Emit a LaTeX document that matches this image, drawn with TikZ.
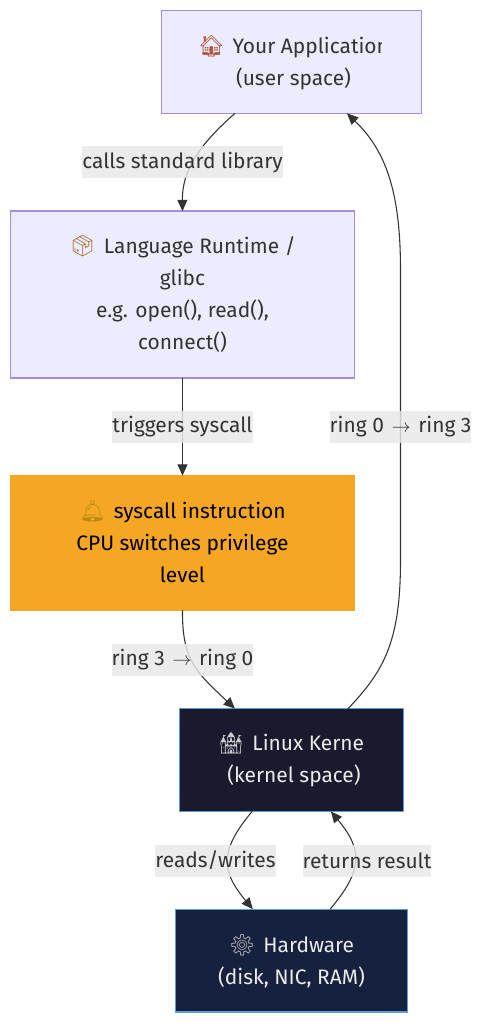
\documentclass[tikz,border=0pt]{standalone}
\usepackage{fontspec}
\setmainfont{Fira Sans}
\newfontfamily\emojifont{Noto Emoji}
\usetikzlibrary{
  arrows.meta
}
\definecolor{boxlight}{HTML}{ECECFF}
\definecolor{boxedge}{HTML}{AA8BE4}
\definecolor{boxsyscall}{HTML}{F5A623}
\definecolor{boxkernel}{HTML}{1A1A2E}
\definecolor{boxhardware}{HTML}{16213E}
\definecolor{boxblue}{HTML}{5A9BDC}
\definecolor{inkdark}{HTML}{333333}
\definecolor{labelgrey}{HTML}{E8E8E8}
\definecolor{housered}{HTML}{B5533C}
\definecolor{parcelbrown}{HTML}{A8743A}
\definecolor{bellgold}{HTML}{B98A10}
\newcommand{\emojitext}[2]{{\color{#1}\emojifont #2}\hspace{6pt}}
\tikzset{
  every node/.style={
    font=\fontsize{15.7}{24}\selectfont,
    align=center,
    inner sep=0pt,
    outer sep=0pt
  },
  light box/.style={
    draw=boxedge,
    line width=1pt,
    fill=boxlight,
    text=inkdark
  },
  syscall box/.style={
    draw=boxsyscall,
    line width=1pt,
    fill=boxsyscall,
    text=black
  },
  dark box/.style={
    draw=boxblue,
    line width=1pt,
    text=white!92!black
  },
  flow edge/.style={
    draw=inkdark,
    line width=0.8pt,
    -{Triangle[length=8.5pt,width=7.5pt]}
  },
  edge label/.style={
    fill=labelgrey,
    fill opacity=0.82,
    text opacity=1,
    text=inkdark,
    minimum height=24pt
  }
}

\begin{document}
\begin{tikzpicture}[x=0.75pt,y=-0.75pt]

    \useasboundingbox (0,0) rectangle (482,1023);

    % ---------- boxes ----------
    \node[light box,minimum width=195pt,minimum height=77pt] (app) at (291.5,62) {};

    \node[light box,minimum width=258pt,minimum height=125pt] (runtime) at (182.5,294.5) {};
    \node[text=inkdark] (runtimeText) at (182.5,294) {
      \emojitext{parcelbrown}{📦}Language Runtime /\\
      glibc\\
      e.g. open(), read(),\\
      connect()
    };

    \node[syscall box,minimum width=258pt,minimum height=101pt] (syscall) at (182.5,543) {};
    \node[text=black] (syscallText) at (182.5,542) {
      \emojitext{bellgold}{🔔}syscall instruction\\
      CPU switches privilege\\
      level
    };

    \node[dark box,fill=boxkernel,minimum width=168pt,minimum height=77pt] (kernel) at (291.5,760) {};

    \node[dark box,fill=boxhardware,minimum width=174pt,minimum height=77pt] (hardware) at (291.5,960.5) {};
    \node[text=white!92!black] (hardwareText) at (291.5,961.5) {
      \emojitext{black!25}{⚙}Hardware\\
      (disk, NIC, RAM)
    };

    % text that stops short of the right side of its box
    \begin{scope}
      \clip (170,11) rectangle (381,113);
      \node[text=inkdark] (appText) at (293.5,62.5) {
        \emojitext{housered}{🏠}Your Application\\
        (user space)
      };
    \end{scope}
    \begin{scope}
      \clip (185,709) rectangle (364,811);
      \node[text=white!92!black] (kernelText) at (294,760) {
        \emojitext{black!20}{🏰}Linux Kernel\\
        (kernel space)
      };
    \end{scope}

    % ---------- connectors ----------
    \draw[flow edge]
      ([xshift=-42.4pt]app.south)
      .. controls (200,144) and (182,170) ..
      (runtime.north);

    \draw[flow edge]
      (runtime.south) -- (syscall.north);

    \draw[flow edge]
      (syscall.south)
      .. controls (182,660) and (196,672) ..
      ([xshift=-42.4pt]kernel.north);

    \draw[flow edge]
      ([xshift=42.4pt]kernel.north)
      .. controls (385,670) and (400.5,640) ..
      (400.5,560)
      -- (400.5,270)
      .. controls (400.5,190) and (385,150) ..
      ([xshift=41.6pt]app.south);

    \draw[flow edge]
      ([xshift=-29.5pt]kernel.south)
      .. controls (220,850) and (220,870) ..
      ([xshift=-29pt]hardware.north);

    \draw[flow edge]
      ([xshift=29pt]hardware.north)
      .. controls (363,870) and (363,850) ..
      ([xshift=29.5pt]kernel.south);

    % ---------- edge labels ----------
    \node[edge label] (callsLabel) at (182.5,162.5) {calls standard library};
    \node[edge label] (triggersLabel) at (182.5,427) {triggers syscall};
    \node[edge label] (upLabel) at (400.5,427) {ring 0\hspace{1.5pt} $\rightarrow$\hspace{1.5pt} ring 3};
    \node[edge label] (downLabel) at (182.5,659.5) {ring 3\hspace{1.5pt} $\rightarrow$\hspace{1.5pt} ring 0};
    \node[edge label] (readsLabel) at (215.5,860.5) {reads/writes};
    \node[edge label] (returnsLabel) at (367,860.5) {returns result};

\end{tikzpicture}
\end{document}
